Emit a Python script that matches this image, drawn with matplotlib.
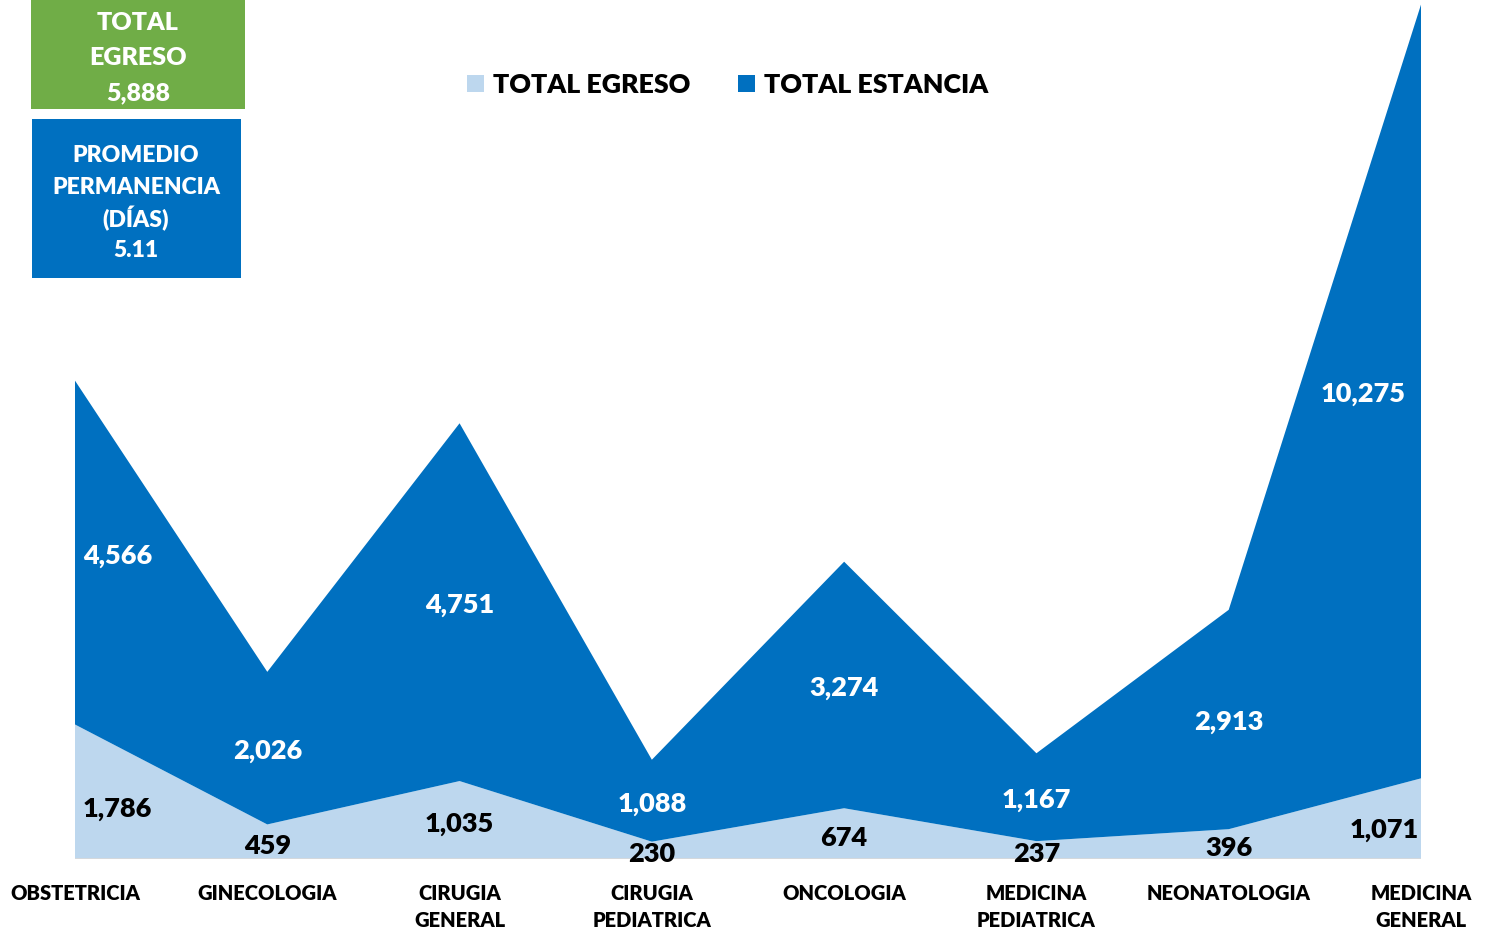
import matplotlib
matplotlib.use("Agg")
import matplotlib.pyplot as plt
from matplotlib.patches import Rectangle

categories = ["OBSTETRICIA", "GINECOLOGIA", "CIRUGIA\nGENERAL", "CIRUGIA\nPEDIATRICA",
              "ONCOLOGIA", "MEDICINA\nPEDIATRICA", "NEONATOLOGIA", "MEDICINA\nGENERAL"]
total_egreso = [1786, 459, 1035, 230, 674, 237, 396, 1071]
total_estancia = [4566, 2026, 4751, 1088, 3274, 1167, 2913, 10275]
series_names = ["TOTAL EGRESO", "TOTAL ESTANCIA"]
box1_lines = ["TOTAL", "EGRESO", "5,888"]
box2_lines = ["PROMEDIO", "PERMANENCIA", "(DÍAS)", "5.11"]

LIGHT = "#BDD7EE"
DARK = "#0070C0"
GREEN = "#70AD47"
FONT = "Lato"
WEIGHT = "heavy"

W, H = 1486, 937
fig = plt.figure(figsize=(W / 100, H / 100), dpi=100)
plt.rcParams['font.family'] = [FONT, 'DejaVu Sans']

def fx(x):
    return x / W

def fy(y):
    return 1 - y / H

ax = fig.add_axes([fx(75), fy(860), (1421 - 75) / W, 860 / H])
x = list(range(len(categories)))
ax.stackplot(x, total_egreso, total_estancia, colors=[LIGHT, DARK], linewidth=0)
ax.set_xlim(0, len(categories) - 1)
ax.set_ylim(0, 11420)
for s in ax.spines.values():
    s.set_visible(False)
ax.axhline(0, color="#D9D9D9", lw=1.2, zorder=3)
ax.set_yticks([])
ax.set_xticks(x)
ax.set_xticklabels(categories, fontsize=14.5, fontweight=WEIGHT, linespacing=1.5, color="black")
ax.tick_params(axis="x", length=0, pad=17)

# data labels
n = len(categories)
for i in range(n):
    e = total_egreso[i]
    s = total_estancia[i]
    if i == 0:
        ha, dx1, dx2, dy1 = "left", 8, 8, -16
    elif i == n - 1:
        ha, dx1, dx2, dy1 = "right", -2, -15, -10
    else:
        ha, dx1, dx2, dy1 = "center", 0, 0, -3
    ax.annotate(f"{e:,}", (i, e / 2), xytext=(dx1, dy1), textcoords="offset pixels",
                ha=ha, va="center", fontsize=19.5, fontweight=WEIGHT, color="black", zorder=5)
    ax.annotate(f"{s:,}", (i, e + s / 2), xytext=(dx2, -2), textcoords="offset pixels",
                ha=ha, va="center", fontsize=19.5, fontweight=WEIGHT, color="white", zorder=5)

# boxes
fig.patches.append(Rectangle((fx(31), fy(110)), (245 - 31) / W, 110 / H,
                             transform=fig.transFigure, facecolor=GREEN, edgecolor="none"))
for k, t in enumerate(box1_lines):
    fig.text(fx(138), fy(23 + 35 * k), t, ha="center", va="center", fontsize=18,
             fontweight=WEIGHT, color="white")
fig.patches.append(Rectangle((fx(32), fy(279)), (241 - 32) / W, (279 - 120) / H,
                             transform=fig.transFigure, facecolor=DARK, edgecolor="none"))
for k, t in enumerate(box2_lines):
    fig.text(fx(136), fy(155 + 32 * k), t, ha="center", va="center", fontsize=16.5,
             fontweight=WEIGHT, color="white")

# legend
leg = [(467, series_names[0], LIGHT), (738, series_names[1], DARK)]
for xs, name, col in leg:
    fig.patches.append(Rectangle((fx(xs), fy(93)), 17 / W, 17 / H,
                                 transform=fig.transFigure, facecolor=col, edgecolor="none"))
    fig.text(fx(xs + 26), fy(85), name, ha="left", va="center", fontsize=19.3,
             fontweight=WEIGHT, color="black")

fig.savefig("out.png", dpi=100)
